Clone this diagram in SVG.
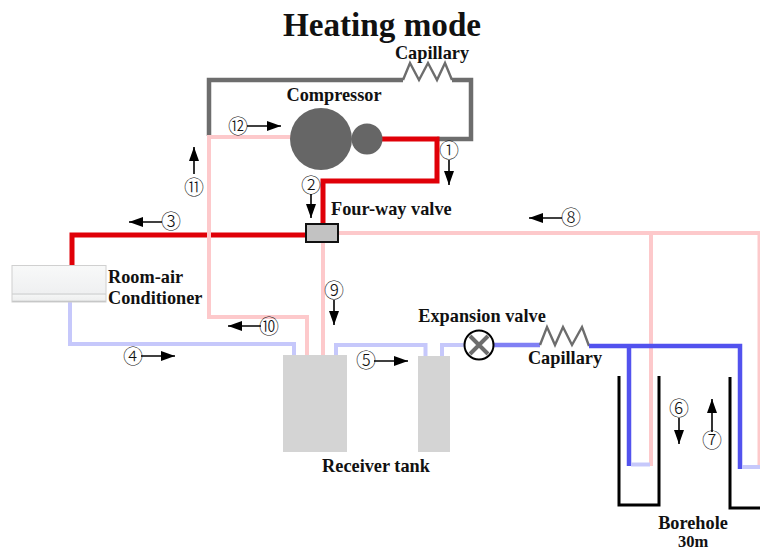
<svg xmlns="http://www.w3.org/2000/svg" width="760" height="548" viewBox="0 0 760 548">
<defs>
<marker id="ah" markerUnits="userSpaceOnUse" markerWidth="16" markerHeight="10" refX="14" refY="5" orient="auto"><path d="M0,0 L14,5 L0,10 Z" fill="#000"/></marker>
<linearGradient id="ac" x1="0" y1="0" x2="0" y2="1"><stop offset="0" stop-color="#f8f9f9"/><stop offset="0.75" stop-color="#eff0f1"/><stop offset="0.78" stop-color="#cfd1d1"/><stop offset="0.82" stop-color="#f4f5f5"/><stop offset="0.95" stop-color="#eeefef"/><stop offset="1" stop-color="#a8aaaa"/></linearGradient>
</defs>
<style>
text{font-family:"Liberation Serif","Times New Roman",serif;font-weight:bold;fill:#111}
.lb{font-size:18.3px}
.n{font-family:"Noto Sans CJK JP","DejaVu Sans",sans-serif;font-weight:300;font-size:20px;text-anchor:middle}
.p{fill:none;stroke-linejoin:miter}
.red{stroke:#e00008;stroke-width:5}
.gy{stroke:#6d6d6d;stroke-width:4.5}
.zz{stroke:#6d6d6d;stroke-width:2.4}
.pk{stroke:#fdc9cb;stroke-width:4}
.lv{stroke:#c6c8fb;stroke-width:4}
.md{stroke:#8080f4;stroke-width:4.5}
.bl{stroke:#5252ee;stroke-width:4.5}
.bh{fill:none;stroke:#000;stroke-width:3}
.ar{fill:none;stroke:#000;stroke-width:1.6;marker-end:url(#ah)}
.tk{fill:#d4d4d4}
</style>
<text x="382" y="36" font-size="33.2" text-anchor="middle" id="title">Heating mode</text>
<g id="connectors">
<path class="p gy" d="M209,136 V80 H403 M452,80 H471 V139 H437"/>
<path class="p zz" d="M403,80 L410,63 L419,80 L428,63 L437,80 L445,63 L452,80"/>
<path class="p red" d="M380,139 H437 V181 H323 V223"/>
<path class="p red" d="M72,265 V235 H306"/>
<path class="p pk" d="M292,137 H209 V317 H307 V355"/>
<path class="p pk" d="M323,243 V355"/>
<path class="p pk" d="M338,233 H759.500 V467"/>
<path class="p pk" d="M651,233 V466"/>
<path class="p lv" d="M70,302 V344 H294 V355"/>
<path class="p lv" d="M336,355 V345 H425.500 V356"/>
<path class="p lv" d="M442,356 V345 H466"/>
<path class="p md" d="M494,345 H540"/>
<path class="p zz" d="M540,345 L547,327 L555,345 L563,327 L572,345 L582,327 L589,346"/>
<path class="p bl" d="M589,346 H740 V469"/>
<path class="p bl" d="M629,346 V466"/>
<path class="p lv" d="M631,464.500 H650"/>
<path class="p lv" d="M742,467 H760"/>
</g>
<g id="compressor"><circle cx="321" cy="139" r="31" fill="#666"/><circle cx="367" cy="139" r="15.500" fill="#666"/></g>
<g id="four-way-valve"><rect x="306" y="224" width="32" height="18" fill="#c2c2c2" stroke="#111" stroke-width="2"/></g>
<g id="room-air-conditioner"><rect x="12" y="265.500" width="94" height="36.500" fill="url(#ac)" stroke="#d0d0d0" stroke-width="1"/></g>
<g id="receiver-tank"><rect class="tk" x="283" y="355" width="64" height="97"/><rect class="tk" x="418" y="356" width="32" height="96"/></g>
<g id="expansion-valve"><circle cx="479" cy="345" r="14.500" fill="#fff" stroke="#000" stroke-width="2"/><path d="M470,336 L488,354 M488,336 L470,354" stroke="#6d6d6d" stroke-width="4" fill="none"/></g>
<g id="boreholes"><path class="bh" d="M619,376 V505 H659 V376"/><path class="bh" d="M730,377 V508 H760"/></g>
<g id="labels">
<text class="lb" x="432" y="59" text-anchor="middle">Capillary</text>
<text class="lb" x="334" y="101" text-anchor="middle">Compressor</text>
<text class="lb" x="331" y="215">Four-way valve</text>
<text class="lb" x="108" y="283">Room-air</text>
<text class="lb" x="108" y="304">Conditioner</text>
<text class="lb" x="482" y="322" text-anchor="middle">Expansion valve</text>
<text class="lb" x="565" y="364" text-anchor="middle">Capillary</text>
<text class="lb" x="376" y="472" text-anchor="middle">Receiver tank</text>
<text class="lb" x="693" y="529" text-anchor="middle">Borehole</text>
<text x="693" y="547" font-size="16.5" text-anchor="middle">30m</text>
</g>
<g id="flow-labels">
<text class="n" x="449" y="158">①</text><path class="ar" d="M449,160 V185"/>
<text class="n" x="311" y="193">②</text><path class="ar" d="M311,194 V218"/>
<text class="n" x="171" y="229">③</text><path class="ar" d="M162,222 H129"/>
<text class="n" x="133" y="364">④</text><path class="ar" d="M141,356 H175"/>
<text class="n" x="366" y="368">⑤</text><path class="ar" d="M374,361 H408"/>
<text class="n" x="679" y="416">⑥</text><path class="ar" d="M679,418 V444"/>
<text class="n" x="712" y="448">⑦</text><path class="ar" d="M712,432 V399"/>
<text class="n" x="571" y="225">⑧</text><path class="ar" d="M562,218 H529"/>
<text class="n" x="334" y="298">⑨</text><path class="ar" d="M334,300 V325"/>
<text class="n" x="269" y="334">⑩</text><path class="ar" d="M261,326 H228"/>
<text class="n" x="194" y="195">⑪</text><path class="ar" d="M194,174 V147"/>
<text class="n" x="238" y="134">⑫</text><path class="ar" d="M247,126 H281"/>
</g>
</svg>
